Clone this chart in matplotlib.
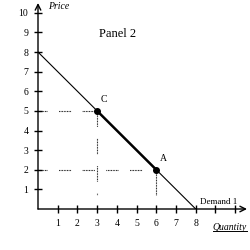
import matplotlib
matplotlib.use("Agg")
import matplotlib.pyplot as plt
from matplotlib.lines import Line2D

# demand curve end points and the two marked points
demand_q = [0, 8]
demand_p = [8, 0]
point_names = ["C", "A"]
point_q = [3, 6]
point_p = [5, 2]
x_ticks = [1, 2, 3, 4, 5, 6, 7, 8, 9, 10]
x_labels = ["1", "2", "3", "4", "5", "6", "7", "8", "", ""]
y_ticks = [1, 2, 3, 4, 5, 6, 7, 8, 9, 10]
y_labels = ["1", "2", "3", "4", "5", "6", "7", "8", "9", "10"]

plt.rcParams['font.family'] = ['Liberation Serif', 'DejaVu Serif']

fig = plt.figure(figsize=(2.5, 2.5), dpi=100)
ax = fig.add_axes([0.152, 0.164, 0.836, 0.824])
ax.set_xlim(0, 10.6)
ax.set_ylim(0, 10.5)
for s in ax.spines.values():
    s.set_visible(False)

# axes with arrows
ax.annotate("", xy=(10.6, 0), xytext=(0, 0),
            arrowprops=dict(arrowstyle="->", lw=1, color="black", shrinkA=0, shrinkB=0))
ax.annotate("", xy=(0, 10.5), xytext=(0, 0),
            arrowprops=dict(arrowstyle="->", lw=1, color="black", shrinkA=0, shrinkB=0))

ax.set_xticks(x_ticks)
ax.set_xticklabels(x_labels)
ax.set_yticks(y_ticks)
ax.set_yticklabels(y_labels)
ax.tick_params(direction="inout", length=6, width=1, labelsize=7, pad=4)

# dotted guides, broken into short runs
h_dash = tuple([0.72, 0.72] * 7 + [0.72, 10.5])
v_dash = tuple([0.72, 0.72] * 9 + [0.72, 11.0])
cq, cp = point_q[0], point_p[0]
aq, ap = point_q[1], point_p[1]
for y, x_end in [(cp, cq), (ap, aq)]:
    ax.plot([0, x_end], [y, y], color="black", lw=0.8, linestyle=(2.8, h_dash))
ax.plot([cq, cq], [cp, 0.7], color="black", lw=0.8, linestyle=(0, v_dash))
ax.plot([aq, aq], [ap, 0.7], color="black", lw=0.8, linestyle=(0, (0.72, 0.72)))

# demand line: thin outside C-A, thick between
ax.plot(demand_q, demand_p, color="black", lw=0.8)
ax.plot(point_q, point_p, color="black", lw=1.8)
ax.plot(point_q, point_p, "o", color="black", ms=4)
for n, q, p in zip(point_names, point_q, point_p):
    ax.text(q + 0.2, p + 0.35, n, fontsize=7, ha="left", va="bottom")

ax.text(3.1, 8.9, "Panel 2", fontsize=9, ha="left", va="center")
ax.text(0.5, 10.3, "Price", fontsize=7, style="italic", ha="left", va="center")
ax.text(8.2, 0.15, "Demand 1", fontsize=6.5, ha="left", va="bottom")
qt = ax.text(10.6, -0.7, "Quantity", fontsize=7, style="italic", ha="right", va="top")

# underline for Quantity
fig.canvas.draw()
bb = qt.get_window_extent()
inv = fig.transFigure.inverted()
(x0, y0), (x1, _) = inv.transform([(bb.x0, bb.y0 + 1), (bb.x1, bb.y0)])
fig.add_artist(Line2D([x0, x1], [y0, y0], color="black", lw=0.7))

fig.savefig("out.png", dpi=100)
